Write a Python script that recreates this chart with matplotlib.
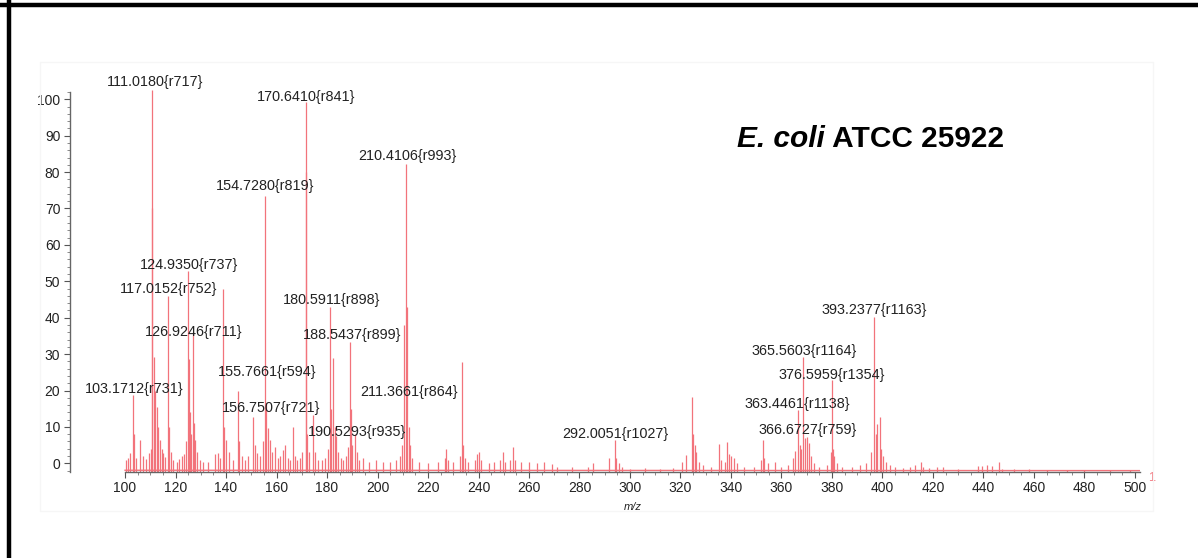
import numpy as np
import matplotlib.pyplot as plt
from matplotlib.patches import Rectangle
from matplotlib.ticker import MultipleLocator, FixedLocator

plt.rcParams['font.family'] = ['Liberation Sans', 'DejaVu Sans']

# =========================
# Spectrum peaks (m/z, relative intensity)
# =========================
peak_mz = [
    100.4, 101.2, 102.0, 103.0, 103.4, 104.3, 105.9, 107.3, 108.4, 109.3,
    110.2, 110.6, 110.8, 111.5, 111.9, 112.5, 113.2, 113.9, 114.6, 115.2,
    116.0, 117.0, 117.4, 118.2, 119.1, 120.5, 121.5, 122.4, 123.5, 124.3,
    124.8, 125.5, 125.9, 126.3, 126.8, 127.2, 127.7, 128.5, 129.7, 131.0,
    133.0, 135.6, 136.9, 137.8, 138.7, 139.2, 140.0, 141.0, 142.9, 144.8,
    145.3, 146.2, 147.5, 148.8, 150.8, 151.5, 152.2, 153.5, 154.5, 155.4,
    155.9, 156.6, 157.4, 158.3, 159.4, 160.5, 161.5, 162.4, 163.4, 164.5,
    165.5, 166.4, 167.2, 168.3, 169.1, 170.2, 171.6, 171.7, 172.2, 173.0,
    174.6, 175.3, 176.5, 178.0, 179.3, 180.3, 181.2, 181.7, 182.5, 183.0,
    183.5, 184.3, 185.5, 186.5, 187.6, 188.4, 189.1, 189.5, 189.9, 191.1,
    191.8, 192.8, 194.4, 196.5, 199.5, 202.0, 205.0, 207.5, 209.0, 209.6,
    210.4, 211.3, 211.6, 212.3, 212.8, 213.8, 216.5, 220.0, 224.0, 226.6,
    227.1, 227.8, 230.0, 232.6, 233.3, 233.8, 234.6, 236.0, 238.5, 239.5,
    240.3, 241.0, 244.0, 246.0, 248.5, 249.6, 250.5, 252.5, 253.8, 254.6,
    257.0, 260.0, 263.0, 266.0, 269.0, 271.0, 276.9, 283.5, 285.2, 291.5,
    294.1, 294.6, 295.5, 297.0, 300.0, 306.0, 312.0, 317.0, 320.5, 322.1,
    324.4, 325.0, 325.6, 326.3, 327.5, 329.0, 332.0, 335.4, 336.2, 337.5,
    338.5, 339.2, 340.0, 341.0, 342.5, 345.0, 349.0, 351.8, 352.5, 353.2,
    354.5, 357.4, 360.0, 362.5, 364.5, 365.5, 366.7, 367.3, 367.8, 368.6,
    369.2, 370.0, 370.9, 371.8, 373.0, 375.0, 378.0, 379.5, 379.9, 380.5,
    380.8, 382.0, 384.0, 388.0, 391.0, 393.5, 395.5, 396.8, 397.3, 397.7,
    399.0, 399.6, 400.3, 401.5, 403.0, 405.0, 408.0, 411.0, 413.0, 415.1,
    416.0, 418.5, 421.6, 424.1, 430.0, 437.8, 439.6, 441.5, 443.4, 446.3,
    447.5, 452.0, 458.0, 465.0, 473.0, 480.0, 490.0, 498.0,
]
peak_int = [
    0.8, 1.5, 2.8, 18.7, 8.0, 1.5, 6.3, 1.9, 1.2, 2.7,
    4.0, 102.5, 70.0, 29.2, 20.0, 15.5, 10.0, 6.3, 4.0, 2.7,
    1.8, 46.0, 10.0, 3.0, 1.0, 0.5, 1.2, 1.9, 2.5, 6.0,
    52.8, 28.7, 14.0, 8.0, 36.0, 11.0, 6.3, 3.0, 1.0, 0.3,
    0.5, 2.5, 2.8, 1.5, 48.0, 10.0, 6.3, 3.0, 1.0, 20.0,
    6.0, 1.9, 1.0, 2.0, 12.7, 5.0, 2.8, 2.0, 6.0, 73.5,
    16.5, 9.8, 6.3, 3.0, 4.5, 1.5, 2.0, 3.7, 5.0, 1.5,
    1.0, 10.0, 2.0, 1.0, 1.5, 3.0, 80.0, 99.3, 8.0, 3.0,
    13.2, 3.0, 1.0, 0.8, 1.5, 4.0, 43.0, 15.0, 28.8, 10.0,
    7.5, 3.0, 1.5, 0.8, 2.0, 4.5, 33.3, 15.0, 5.0, 8.0,
    3.0, 1.0, 1.4, 0.5, 1.0, 0.3, 0.5, 0.8, 2.0, 5.0,
    38.0, 82.3, 43.0, 10.0, 5.0, 1.5, 0.5, 0.2, 0.3, 1.5,
    4.0, 1.0, 0.3, 2.0, 27.8, 5.0, 1.5, 0.5, 1.0, 2.5,
    3.1, 1.0, 0.2, 0.5, 1.0, 3.1, 0.5, 1.0, 4.5, 1.0,
    0.3, 0.5, 0.2, 0.3, -0.1, -1.0, -1.0, -1.0, 0.0, 1.5,
    6.5, 1.5, 0.0, -1.0, -1.5, -1.2, -1.5, -1.2, 0.5, 2.2,
    18.2, 8.0, 5.0, 3.0, 0.5, -0.5, -1.0, 5.2, 1.0, 0.5,
    5.9, 2.5, 2.0, 1.5, 0.0, -1.0, -1.0, 1.0, 6.3, 1.5,
    0.0, 0.3, -1.0, -0.5, 1.5, 3.5, 14.6, 5.0, 4.0, 29.2,
    7.0, 7.2, 5.5, 2.0, 0.0, -1.0, -0.5, 3.0, 22.8, 4.0,
    2.0, 0.0, -1.0, -1.0, -0.5, 0.0, 3.0, 40.2, 8.0, 10.9,
    12.7, 4.0, 2.0, 0.5, -0.5, -1.0, -1.2, -1.0, -0.5, 0.4,
    -1.0, -1.2, -1.0, -1.0, -1.5, -0.8, -0.8, -0.5, -0.8, 0.5,
    -1.5, -1.6, -1.6, -1.7, -1.7, -1.7, -1.7, -1.8,
]

# flat noise floor under the peaks
baseline_mz = [100.0, 502.0]
baseline_int = [-1.9, -2.0]

# peak annotations: text, m/z and intensity where the label sits
label_text = [
    "111.0180{r717}", "170.6410{r841}", "210.4106{r993}", "154.7280{r819}",
    "124.9350{r737}", "117.0152{r752}", "180.5911{r898}", "188.5437{r899}",
    "126.9246{r711}", "155.7661{r594}", "103.1712{r731}", "156.7507{r721}",
    "211.3661{r864}", "190.5293{r935}", "292.0051{r1027}", "365.5603{r1164}",
    "376.5959{r1354}", "363.4461{r1138}", "366.6727{r759}", "393.2377{r1163}",
]
label_mz = [
    111.9, 171.7, 211.9, 155.4, 125.3, 117.4, 181.8, 189.8, 127.3, 156.1,
    103.5, 157.7, 212.5, 191.7, 294.1, 368.9, 380.0, 366.3, 370.3, 396.6,
]
label_int = [
    104.7, 100.6, 84.4, 76.1, 54.4, 47.9, 44.8, 35.2, 36.1, 25.1,
    20.5, 15.3, 19.6, 8.6, 8.1, 30.9, 24.2, 16.2, 9.1, 42.2,
]

x_ticks = list(range(100, 501, 20))
x_minor = list(range(100, 501, 5))
y_ticks = list(range(0, 101, 10))

# =========================
# Figure
# =========================
W, H = 1198, 558
fig = plt.figure(figsize=(W / 100, H / 100), dpi=100)
fig.patch.set_facecolor("white")

# black frame on top / left edges of the figure panel
fig.add_artist(plt.Line2D([0, 1], [1 - 4.7 / H] * 2, color="black", lw=3.2))
fig.add_artist(plt.Line2D([8.7 / W] * 2, [0, 1], color="black", lw=3.2))
# faint inner panel box
fig.add_artist(Rectangle((40 / W, 1 - 511 / H), (1153 - 40) / W, (511 - 62) / H,
                         fill=False, ec="#f6f6f6", lw=1))

ax = fig.add_axes([70 / W, 1 - 471.7 / H, 1070 / W, (471.7 - 92) / H])

red = "#f2737b"
bottom = -2.3
ax.plot(baseline_mz, baseline_int, color=red, lw=1, zorder=2)
ax.vlines(peak_mz, bottom, peak_int, color=red, lw=0.9, zorder=2, clip_on=False)

for txt, x, y in zip(label_text, label_mz, label_int):
    ax.text(x, y, txt, ha="center", va="center", fontsize=10.4, color="#222222",
            zorder=5, clip_on=False)

ax.set_xlim(78.2, 502)
ax.set_ylim(bottom, 102)
ax.set_xticks(x_ticks)
ax.set_yticks(y_ticks)
ax.xaxis.set_minor_locator(FixedLocator(x_minor))
ax.yaxis.set_minor_locator(MultipleLocator(2))

for side in ["top", "right"]:
    ax.spines[side].set_visible(False)
ax.spines["bottom"].set_bounds(100, 502)
for side in ["left", "bottom"]:
    ax.spines[side].set_color("#666666")
    ax.spines[side].set_linewidth(1)

ax.tick_params(which="major", direction="out", length=4, width=0.8, color="#555555",
               labelsize=10, labelcolor="#222222", pad=3)
ax.tick_params(which="minor", direction="out", length=2, width=0.6, color="#777777")
ax.set_facecolor("none")

ax.text((301 - 78.2) / (502 - 78.2), -0.08, "m/z", transform=ax.transAxes,
        ha="center", va="top", fontsize=8, style="italic", color="#222222")
ax.text(1151.7 / W, 1 - 478 / H, "1", transform=fig.transFigure, ha="center",
        va="center", fontsize=9, color=red)

# strain name
t1 = fig.text(737 / W, 1 - 147 / H, "E. coli", fontsize=21.5, fontweight="bold",
              style="italic", ha="left", va="baseline")
ax.annotate(" ATCC 25922", xy=(1, 0), xycoords=t1, ha="left", va="bottom",
            fontsize=21.5, fontweight="bold")

fig.savefig("out.png", dpi=100)
